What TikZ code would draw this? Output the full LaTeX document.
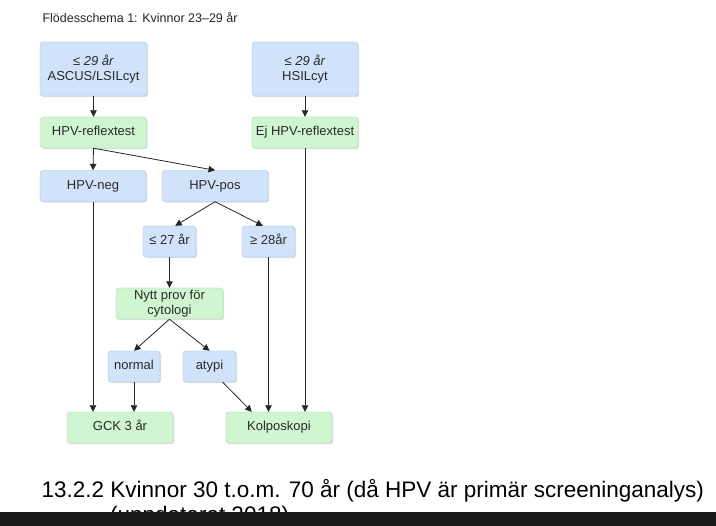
\documentclass[tikz,border=0pt]{standalone}
\usepackage{fontspec}
\setmainfont{Liberation Sans}
\usetikzlibrary{arrows.meta,shadows}
\definecolor{boxblue}{HTML}{D0E3FA}
\definecolor{lineblue}{HTML}{A6C3E8}
\definecolor{boxgreen}{HTML}{CFF6D0}
\definecolor{linegreen}{HTML}{A4DBA7}
\definecolor{txt}{HTML}{2A2A2A}
\tikzset{
  blk/.style  ={draw,rounded corners=3pt,align=center,inner sep=0pt,text=txt,
                font=\fontsize{13}{15}\selectfont,
                drop shadow={shadow xshift=1.2pt,shadow yshift=-1.2pt,opacity=0.25}},
  blu/.style  ={blk,fill=boxblue,draw=lineblue},
  grn/.style  ={blk,fill=boxgreen,draw=linegreen},
  one/.style  ={text height=9pt,text depth=2.6pt},
  wide/.style ={one,minimum width=106pt,minimum height=31pt},
  slim/.style ={one,minimum width=53pt,minimum height=31pt},
  flow/.style ={-{Triangle[length=6.5pt,width=6.5pt]},draw=black!85,line width=0.8pt},
}

\begin{document}
\begin{tikzpicture}[x=1pt,y=-1pt]
  \useasboundingbox[fill=white] (0,0) rectangle (716,526);
  \node[anchor=base west,text=black!85,font=\fontsize{12.5}{15}\selectfont] (title) at (39,23) {Flödesschema 1: Kvinnor 23–29 år};
  % start boxes
  \node[blu,minimum width=107pt,minimum height=54pt] (asc) at (93.5,69) {\textit{≤ 29 år}\\ASCUS/LSILcyt};
  \node[blu,minimum width=106pt,minimum height=54pt] (hsil) at (305,69) {\textit{≤ 29 år}\\HSILcyt};
  \node[grn,wide] (refl) at (93.5,132.5) {HPV-reflextest};
  \node[grn,wide] (ejrefl) at (305,132.5) {Ej HPV-reflextest};
  \node[blu,wide] (neg) at (93,186) {HPV-neg};
  \node[blu,wide] (pos) at (215,186) {HPV-pos};
  \node[blu,slim] (le27) at (169.5,241.5) {≤ 27 år};
  \node[blu,slim] (ge28) at (268.5,241.5) {≥ 28år};
  \node[grn,minimum width=107pt,minimum height=31pt] (nytt) at (169.5,303.5) {Nytt prov för\\cytologi};
  \node[blu,one,minimum width=52pt,minimum height=31pt] (norm) at (134,366.5) {normal};
  \node[blu,slim] (atyp) at (209.5,366.5) {atypi};
  \node[grn,wide] (gck) at (120,427.5) {GCK 3 år};
  \node[grn,wide] (kolp) at (279,427.5) {Kolposkopi};
  % connectors
  \draw[flow] (asc) -- (refl);
  \draw[flow] (hsil) -- (ejrefl);
  \draw[flow] (refl.south) -- (neg.north);
  \draw[flow] (refl.south) -- (pos.north);
  \draw[flow] (pos.south) -- (le27.70);
  \draw[flow] (pos.south) -- (ge28.110);
  \draw[flow] (le27) -- (nytt);
  \draw[flow] (nytt.south) -- (norm.north);
  \draw[flow] (nytt.south) -- (atyp.north);
  \draw[flow] (neg.south) -- (neg.south |- gck.north);
  \draw[flow] (norm.south) -- (norm.south |- gck.north);
  \draw[flow] (atyp.-50) -- (kolp.150);
  \draw[flow] (ge28.south) -- (ge28.south |- kolp.north);
  \draw[flow] (ejrefl.south) -- (ejrefl.south |- kolp.north);
  % heading below
  \node[anchor=base west,inner sep=0pt,font=\fontsize{22.5}{25}\selectfont] (head) at (41.5,498) {13.2.2 Kvinnor 30 t.o.m. 70 år (då HPV är primär screeninganalys)};
  \node[anchor=base west,inner sep=0pt,font=\fontsize{22.5}{25}\selectfont] (upd) at (110,523) {(uppdaterat 2018)};
  \fill[black!90] (0,512.5) rectangle (716,526);
\end{tikzpicture}
\end{document}
